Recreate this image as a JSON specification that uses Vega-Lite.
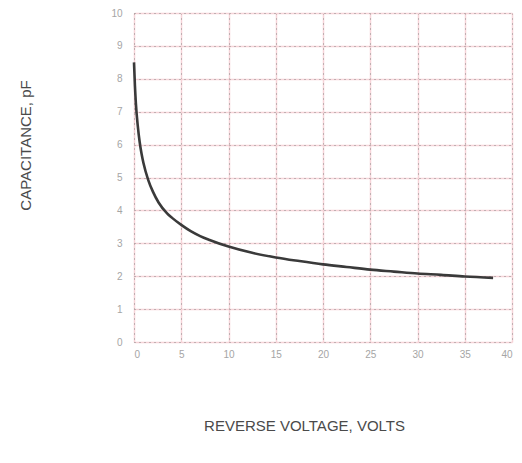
{
  "$schema": "https://vega.github.io/schema/vega-lite/v6.json",
  "width": 378,
  "height": 329,
  "autosize": {"type": "none"},
  "padding": {"left": 134, "top": 13, "right": 10, "bottom": 121},
  "background": "white",
  "config": {
    "view": {"stroke": "#888", "strokeDash": [1, 3], "strokeWidth": 1},
    "font": "Liberation Sans"
  },
  "data": {
    "values": [
      {"V": 0, "C": 8.5},
      {"V": 0.1, "C": 7.78},
      {"V": 0.2, "C": 7.25},
      {"V": 0.4, "C": 6.57},
      {"V": 0.6, "C": 6.08},
      {"V": 0.8, "C": 5.72},
      {"V": 1.0, "C": 5.44},
      {"V": 1.5, "C": 4.93},
      {"V": 2.0, "C": 4.57},
      {"V": 2.6, "C": 4.24},
      {"V": 3.5, "C": 3.91},
      {"V": 4, "C": 3.78},
      {"V": 5, "C": 3.56},
      {"V": 6, "C": 3.37},
      {"V": 7, "C": 3.22},
      {"V": 8, "C": 3.1},
      {"V": 10, "C": 2.9},
      {"V": 12.5, "C": 2.71},
      {"V": 15, "C": 2.57},
      {"V": 17.5, "C": 2.46},
      {"V": 20, "C": 2.36},
      {"V": 22.5, "C": 2.28},
      {"V": 25, "C": 2.2},
      {"V": 27.5, "C": 2.14},
      {"V": 30, "C": 2.08},
      {"V": 32.5, "C": 2.04},
      {"V": 35, "C": 1.99},
      {"V": 38, "C": 1.95}
    ]
  },
  "layer": [
    {
      "mark": {"type": "line", "opacity": 0},
      "encoding": {
        "x": {"field": "V", "type": "quantitative",
          "scale": {"domain": [0, 40], "nice": false},
          "axis": {"orient": "bottom", "values": [0,5,10,15,20,25,30,35,40], "grid": true, "gridColor": "#f6d3d8", "gridWidth": 1.5, "labels": false, "ticks": false, "domain": false, "title": null}},
        "y": {"field": "C", "type": "quantitative",
          "scale": {"domain": [0, 10], "nice": false},
          "axis": {"orient": "left", "values": [0,1,2,3,4,5,6,7,8,9,10], "grid": true, "gridColor": "#f6d3d8", "gridWidth": 1.5, "labels": false, "ticks": false, "domain": false, "title": null}}
      }
    },
    {
      "mark": {"type": "line", "interpolate": "monotone", "color": "#3a3a3a", "strokeWidth": 2.6},
      "encoding": {
        "x": {"field": "V", "type": "quantitative",
          "scale": {"domain": [0, 40], "nice": false},
          "axis": {"orient": "bottom", "values": [0,5,10,15,20,25,30,35,40], "grid": true, "gridColor": "#8a8a8a", "gridDash": [1, 4], "gridWidth": 1,
            "ticks": false, "domain": false, "labelPadding": 7, "labelFontSize": 10, "labelColor": "#a5a5a5",
            "title": "REVERSE VOLTAGE, VOLTS", "titleFontSize": 15, "titleFontWeight": "normal", "titleColor": "#4a4a4a",
            "titleX": 170, "titleY": 83, "titleBaseline": "middle", "titleAlign": "center"}},
        "y": {"field": "C", "type": "quantitative",
          "scale": {"domain": [0, 10], "nice": false},
          "axis": {"orient": "left", "values": [0,1,2,3,4,5,6,7,8,9,10], "grid": true, "gridColor": "#8a8a8a", "gridDash": [1, 4], "gridWidth": 1,
            "ticks": false, "domain": false, "labelPadding": 12, "labelFontSize": 10, "labelColor": "#a5a5a5",
            "title": "CAPACITANCE, pF", "titleFontSize": 15, "titleFontWeight": "normal", "titleColor": "#4a4a4a",
            "titleX": -109, "titleY": 132, "titleAngle": -90, "titleBaseline": "middle", "titleAlign": "center"}}
      }
    }
  ],
  "resolve": {"axis": {"x": "independent", "y": "independent"}}
}
